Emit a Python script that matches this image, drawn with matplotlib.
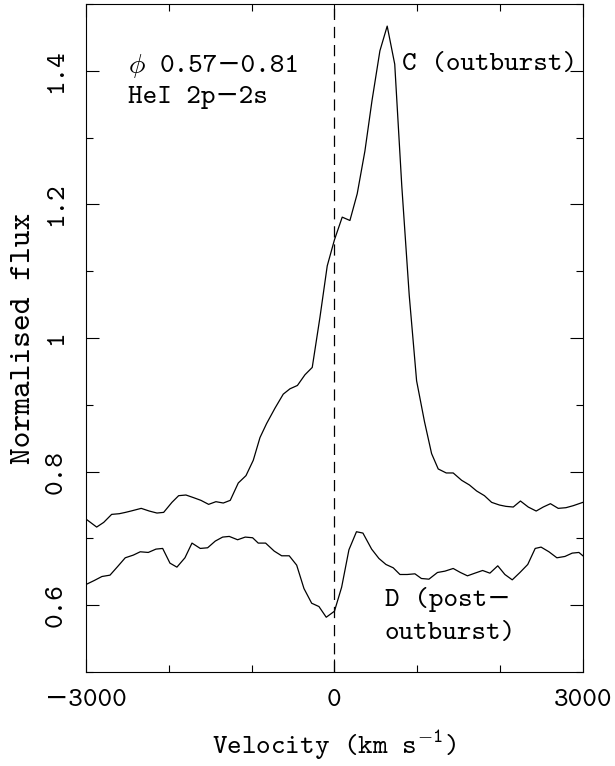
import matplotlib
matplotlib.use("Agg")
import matplotlib.pyplot as plt
from matplotlib.ticker import MultipleLocator, FixedLocator

plt.rcParams['font.family'] = ['cmtt10', 'DejaVu Serif']
plt.rcParams['mathtext.fontset'] = 'custom'
plt.rcParams['mathtext.rm'] = 'cmtt10'
plt.rcParams['mathtext.it'] = 'cmtt10'
plt.rcParams['mathtext.bf'] = 'cmtt10'
plt.rcParams['mathtext.fallback'] = 'cm'

# spectrum C (outburst): velocity (km/s), normalised flux
vel_c = [-3000, -2871, -2786, -2690, -2598, -2523, -2457, -2333, -2236, -2143,
         -2062, -1962, -1881, -1793, -1700, -1612, -1519, -1431, -1342, -1258,
         -1161, -1068, -980, -899, -819, -718, -618, -537, -447, -356,
         -268, -175, -87, 0, 94, 187, 275, 368, 453, 549,
         637, 728, 813, 903, 992, 1087, 1173, 1253, 1350, 1434,
         1536, 1630, 1717, 1811, 1898, 1992, 2071, 2159, 2246, 2340,
         2436, 2521, 2608, 2702, 2795, 2883, 3000]
flux_c = [0.729, 0.717, 0.724, 0.736, 0.737, 0.739, 0.741, 0.745, 0.741, 0.738,
          0.739, 0.754, 0.764, 0.765, 0.761, 0.757, 0.751, 0.755, 0.753, 0.757,
          0.783, 0.794, 0.817, 0.851, 0.872, 0.895, 0.916, 0.924, 0.929, 0.945,
          0.956, 1.031, 1.108, 1.147, 1.181, 1.176, 1.216, 1.280, 1.355, 1.430,
          1.467, 1.410, 1.228, 1.064, 0.936, 0.875, 0.827, 0.804, 0.798, 0.798,
          0.787, 0.780, 0.771, 0.764, 0.754, 0.750, 0.748, 0.747, 0.756, 0.747,
          0.741, 0.747, 0.752, 0.745, 0.746, 0.749, 0.754]

# spectrum D (post-outburst)
vel_d = [-3000, -2900, -2807, -2710, -2617, -2526, -2429, -2345, -2248, -2155,
         -2074, -1986, -1902, -1805, -1720, -1620, -1531, -1439, -1350, -1270,
         -1169, -1077, -988, -920, -831, -727, -637, -546, -456, -368,
         -275, -187, -99, 0, 87, 175, 266, 344, 449, 537,
         622, 710, 791, 879, 972, 1050, 1141, 1244, 1334, 1434,
         1521, 1606, 1696, 1789, 1877, 1972, 2058, 2147, 2240, 2334,
         2424, 2495, 2590, 2686, 2783, 2871, 2952, 3000]
flux_d = [0.631, 0.637, 0.643, 0.645, 0.658, 0.671, 0.675, 0.680, 0.679, 0.684,
          0.685, 0.663, 0.657, 0.671, 0.693, 0.685, 0.686, 0.696, 0.702, 0.703,
          0.698, 0.702, 0.701, 0.693, 0.693, 0.681, 0.674, 0.674, 0.660, 0.625,
          0.603, 0.598, 0.582, 0.591, 0.627, 0.683, 0.710, 0.708, 0.684, 0.670,
          0.661, 0.656, 0.646, 0.646, 0.647, 0.640, 0.639, 0.649, 0.651, 0.655,
          0.649, 0.644, 0.648, 0.652, 0.648, 0.659, 0.646, 0.638, 0.649, 0.661,
          0.685, 0.687, 0.680, 0.671, 0.673, 0.678, 0.679, 0.674]

xtick_values = [-3000, 0, 3000]
xtick_labels = ['\u22123000', '0', '3000']
ytick_values = [0.6, 0.8, 1.0, 1.2, 1.4]
ytick_labels = ['0.6', '0.8', '1', '1.2', '1.4']

fig = plt.figure(figsize=(6.15, 7.66), dpi=100)
ax = fig.add_axes([0.1398, 0.1227, 0.808, 0.872])

ax.plot(vel_c, flux_c, color='black', lw=0.9)
ax.plot(vel_d, flux_d, color='black', lw=0.9)
ax.axvline(0, color='black', lw=0.9, linestyle=(0, (9, 5.5)))

ax.set_xlim(-3000, 3000)
ax.set_ylim(0.5, 1.5)

ax.xaxis.set_major_locator(FixedLocator(xtick_values))
ax.set_xticklabels(xtick_labels)
ax.xaxis.set_minor_locator(MultipleLocator(1000))
ax.yaxis.set_major_locator(FixedLocator(ytick_values))
ax.set_yticklabels(ytick_labels)
ax.yaxis.set_minor_locator(MultipleLocator(0.1))

ax.tick_params(which='both', direction='in', top=True, right=True,
               width=0.8, labelsize=20)
ax.tick_params(which='major', length=9.5)
ax.tick_params(which='minor', length=5)
ax.tick_params(axis='x', pad=12)
ax.tick_params(axis='y', pad=13, labelrotation=90)
for lab in ax.get_yticklabels():
    lab.set_va('center')

for sp in ax.spines.values():
    sp.set_linewidth(0.8)

ax.set_xlabel(r'Velocity (km s$^{-\mathrm{1}}$)', fontsize=20, labelpad=12)
ax.set_ylabel('Normalised flux', fontsize=23, labelpad=6)

# phase label: phi symbol via mathtext, the numbers as plain text
ax.text(-2493, 1.407, r'$\phi$', fontsize=20, va='center', ha='left')
ax.text(-2107, 1.407, '0.57\u22120.81', fontsize=20, va='center', ha='left')
ax.text(-2493, 1.36, 'HeI 2p\u22122s', fontsize=20, va='center', ha='left')
ax.text(811, 1.41, 'C (outburst)', fontsize=20, va='center', ha='left')
ax.text(610, 0.609, 'D (post\u2212', fontsize=20, va='center', ha='left')
ax.text(610, 0.558, 'outburst)', fontsize=20, va='center', ha='left')

fig.savefig('out.png', dpi=100)
